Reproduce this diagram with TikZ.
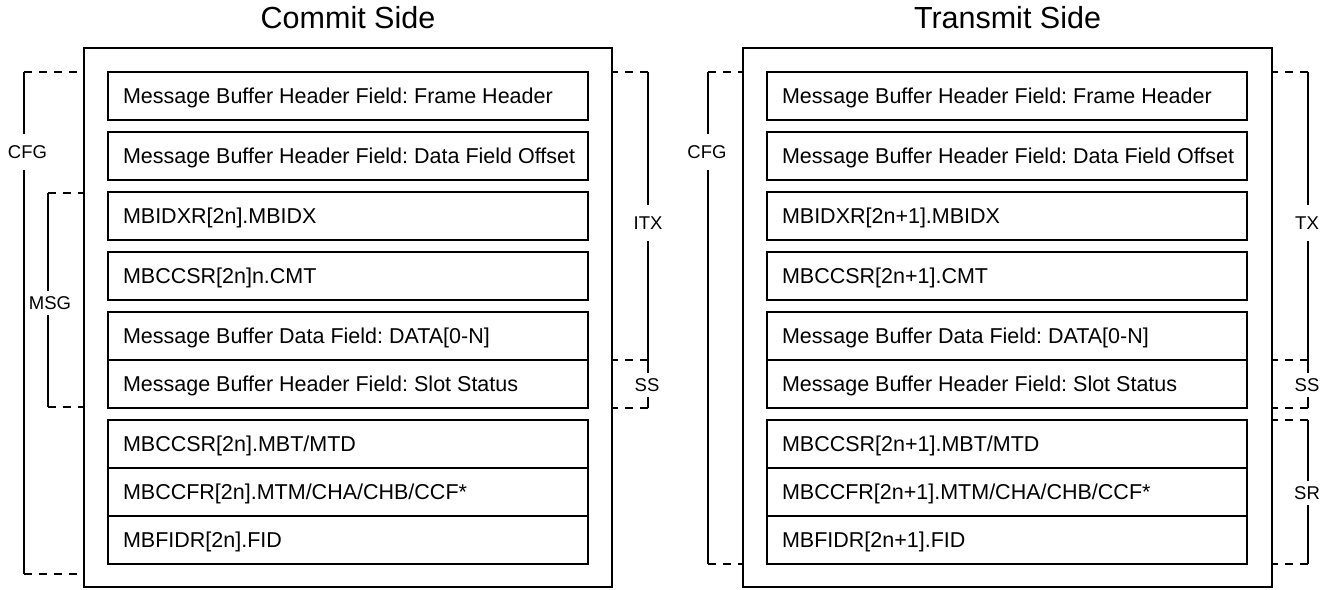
\documentclass[tikz,border=0pt]{standalone}
\usepackage{fontspec}
\setmainfont{Liberation Sans}
\frenchspacing
\newcommand{\fieldtext}[1]{\makebox[450pt][l]{#1}}
\begin{document}
\begin{tikzpicture}[x=1pt,y=-1pt,
  outerbox/.style={draw=black, line width=2.8pt},
  fieldbox/.style={draw=black, line width=1.6pt, minimum width=480pt, minimum height=48pt,
    inner xsep=15pt, inner ysep=0pt,
    text height=15.4pt, text depth=0pt, font=\fontsize{21.5}{25}\selectfont},
  brk/.style={line width=1.5pt},
  brkdash/.style={line width=1.5pt, dash pattern=on 8pt off 7pt},
  lblbig/.style={fill=white, inner xsep=1pt, inner ysep=11.5pt, text height=13.3pt, text depth=0pt,
    font=\fontsize{18.5}{20}\selectfont},
  lblsmall/.style={lblbig, inner ysep=5pt},
  sidetitle/.style={anchor=base, inner sep=0pt, font=\fontsize{30.5}{33}\selectfont}
]
\useasboundingbox (0,0) rectangle (1330,589);

% titles
\node[sidetitle] (tC) at (348,28) {Commit Side};
\node[sidetitle] (tT) at (1007.5,28) {Transmit Side};

% outer boxes
\draw[outerbox] (84,48) rectangle (612,587);
\draw[outerbox] (743,48) rectangle (1272,587);

% left fields
\node[fieldbox] (L1) at (348,96)  {\fieldtext{Message Buffer Header Field: Frame Header}};
\node[fieldbox] (L2) at (348,156) {\fieldtext{Message Buffer Header Field: Data Field Offset}};
\node[fieldbox] (L3) at (348,216) {\fieldtext{MBIDXR[2n].MBIDX}};
\node[fieldbox] (L4) at (348,276) {\fieldtext{MBCCSR[2n]n.CMT}};
\node[fieldbox] (L5) at (348,336) {\fieldtext{Message Buffer Data Field: DATA[0-N]}};
\node[fieldbox] (L6) at (348,384) {\fieldtext{Message Buffer Header Field: Slot Status}};
\node[fieldbox] (L7) at (348,444) {\fieldtext{MBCCSR[2n].MBT/MTD}};
\node[fieldbox] (L8) at (348,492) {\fieldtext{MBCCFR[2n].MTM/CHA/CHB/CCF*}};
\node[fieldbox] (L9) at (348,540) {\fieldtext{MBFIDR[2n].FID}};

% right fields
\node[fieldbox] (R1) at (1007,96)  {\fieldtext{Message Buffer Header Field: Frame Header}};
\node[fieldbox] (R2) at (1007,156) {\fieldtext{Message Buffer Header Field: Data Field Offset}};
\node[fieldbox] (R3) at (1007,216) {\fieldtext{MBIDXR[2n+1].MBIDX}};
\node[fieldbox] (R4) at (1007,276) {\fieldtext{MBCCSR[2n+1].CMT}};
\node[fieldbox] (R5) at (1007,336) {\fieldtext{Message Buffer Data Field: DATA[0-N]}};
\node[fieldbox] (R6) at (1007,384) {\fieldtext{Message Buffer Header Field: Slot Status}};
\node[fieldbox] (R7) at (1007,444) {\fieldtext{MBCCSR[2n+1].MBT/MTD}};
\node[fieldbox] (R8) at (1007,492) {\fieldtext{MBCCFR[2n+1].MTM/CHA/CHB/CCF*}};
\node[fieldbox] (R9) at (1007,540) {\fieldtext{MBFIDR[2n+1].FID}};

% ---- brackets, left box ----
% CFG
\draw[brkdash] (24,72) -- (84,72);
\draw[brkdash] (24,574) -- (84,574);
\draw[brk] (24,72) -- (24,574);
\node[lblbig] (cfgL) at (27.5,152) {CFG};
% MSG
\draw[brkdash] (48,193) -- (84,193);
\draw[brkdash] (48,407) -- (84,407);
\draw[brk] (48,193) -- (48,407);
\node[lblsmall] (msgL) at (50,303) {MSG};
% ITX
\draw[brkdash] (648,72) -- (612,72);
\draw[brkdash] (648,360) -- (612,360);
\draw[brk] (648,72) -- (648,360);
\node[lblbig] (itx) at (648,223) {ITX};
% SS
\draw[brkdash] (648,408) -- (612,408);
\draw[brk] (648,360) -- (648,408);
\node[lblsmall] (ssL) at (647,385) {SS};

% ---- brackets, right box ----
% CFG
\draw[brkdash] (708,72) -- (743,72);
\draw[brkdash] (708,564) -- (743,564);
\draw[brk] (708,72) -- (708,564);
\node[lblbig] (cfgR) at (707,152) {CFG};
% TX
\draw[brkdash] (1308,72) -- (1272,72);
\draw[brkdash] (1308,360) -- (1272,360);
\draw[brk] (1308,72) -- (1308,360);
\node[lblbig] (tx) at (1307,223) {TX};
% SS
\draw[brkdash] (1308,408) -- (1272,408);
\draw[brk] (1308,360) -- (1308,408);
\node[lblsmall] (ssR) at (1307,385) {SS};
% SR
\draw[brkdash] (1308,420) -- (1272,420);
\draw[brkdash] (1308,564) -- (1272,564);
\draw[brk] (1308,420) -- (1308,564);
\node[lblsmall] (sr) at (1307,493) {SR};
\end{tikzpicture}
\end{document}
